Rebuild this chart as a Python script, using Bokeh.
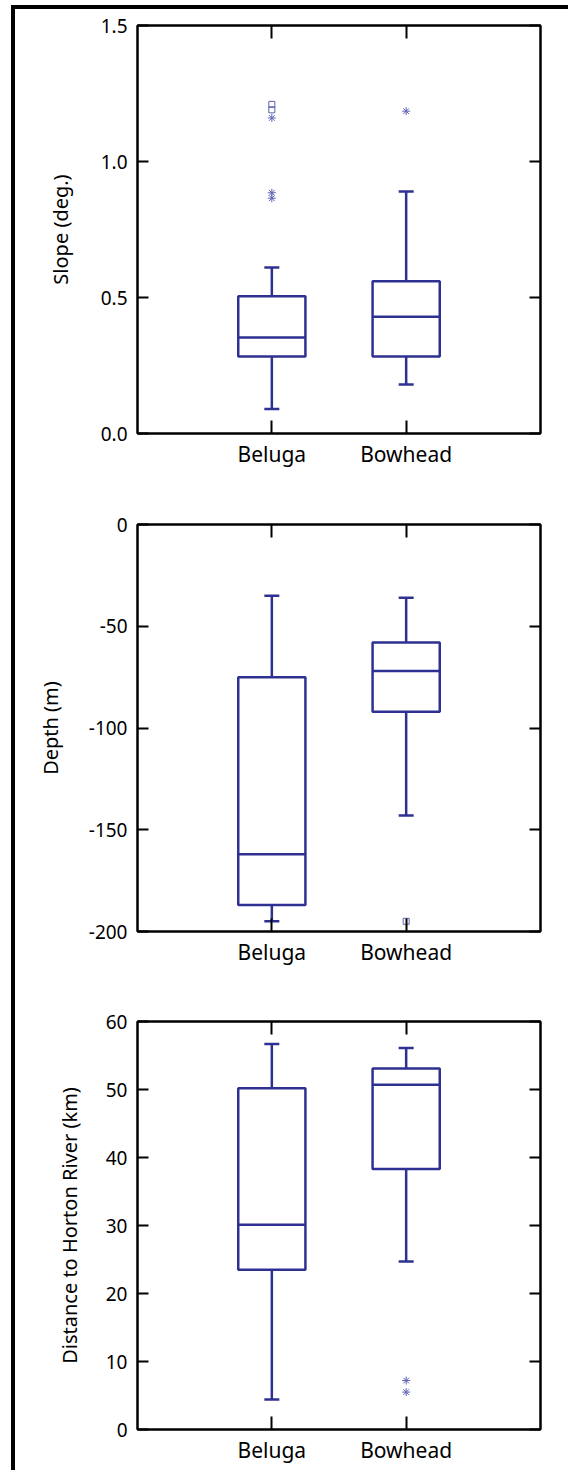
from bokeh.plotting import figure
from bokeh.layouts import column
from bokeh.models import (Range1d, FixedTicker, LinearAxis, ColumnDataSource, Whisker, TeeHead,
                          CustomLabelingPolicy)
from bokeh.embed import file_html
from bokeh.resources import INLINE

species = ["Beluga", "Bowhead"]
xpos = [1, 2]

# Slope (deg.)
slope_low = [0.09, 0.18]
slope_q1 = [0.283, 0.283]
slope_med = [0.353, 0.429]
slope_q3 = [0.505, 0.56]
slope_high = [0.61, 0.89]
slope_sq_x = [1, 1]
slope_sq_y = [1.21, 1.19]
slope_ast_x = [1, 1, 1, 2]
slope_ast_y = [1.16, 0.885, 0.865, 1.185]

# Depth (m)
depth_low = [-195, -143]
depth_q1 = [-187, -92]
depth_med = [-162, -72]
depth_q3 = [-75, -58]
depth_high = [-35, -36]
depth_sq_x = [2]
depth_sq_y = [-195]
depth_ast_x = []
depth_ast_y = []

# Distance to Horton River (km)
dist_low = [4.4, 24.7]
dist_q1 = [23.5, 38.3]
dist_med = [30.1, 50.7]
dist_q3 = [50.2, 53.1]
dist_high = [56.7, 56.1]
dist_sq_x = []
dist_sq_y = []
dist_ast_x = [2, 2]
dist_ast_y = [7.2, 5.5]

BOX = "#2E3192"
OUT = "#5E62B4"
FONT = "Noto Sans"
BOXW = 0.5
FIGW = 553

HIDE = "for (const i of indices) { indices.unset(i) } return indices"


def panel(height, btop, bbottom, yr, yticks, ylabels, ylabel, lstand,
          low, q1, med, q3, high, sqx, sqy, astx, asty):
    p = figure(width=FIGW, height=height, x_range=Range1d(0, 3), y_range=Range1d(*yr),
               output_backend="svg", toolbar_location=None,
               min_border_left=122, min_border_right=FIGW - 122 - 409,
               min_border_top=btop, min_border_bottom=bbottom)
    p.xgrid.visible = False
    p.ygrid.visible = False
    p.outline_line_color = "black"
    p.outline_line_width = 2
    p.background_fill_color = "white"
    p.border_fill_color = "white"

    # bottom x axis
    xa = p.xaxis[0]
    xa.ticker = FixedTicker(ticks=xpos)
    xa.major_label_overrides = {x: s for x, s in zip(xpos, species)}
    xa.major_tick_in = 13
    xa.major_tick_out = 0
    xa.minor_tick_line_color = None
    xa.axis_line_width = 2
    xa.major_tick_line_width = 2
    xa.major_label_text_font = FONT
    xa.major_label_text_font_size = "21px"
    xa.major_label_text_color = "black"
    xa.major_label_standoff = 6

    # left y axis
    ya = p.yaxis[0]
    ya.ticker = FixedTicker(ticks=yticks)
    ya.major_label_overrides = {t: l for t, l in zip(yticks, ylabels)}
    ya.major_tick_in = 11
    ya.major_tick_out = 0
    ya.minor_tick_line_color = None
    ya.axis_line_width = 2
    ya.major_tick_line_width = 2
    ya.major_label_text_font = FONT
    ya.major_label_text_font_size = "19px"
    ya.major_label_text_color = "black"
    ya.major_label_standoff = 10
    ya.axis_label = ylabel
    ya.axis_label_text_font = FONT
    ya.axis_label_text_font_size = "20px"
    ya.axis_label_text_font_style = "normal"
    ya.axis_label_text_color = "black"
    ya.axis_label_standoff = lstand

    # mirrored axes (ticks only)
    ta = LinearAxis(ticker=FixedTicker(ticks=xpos), major_tick_in=13, major_tick_out=0,
                    minor_tick_line_color=None, axis_line_width=2, major_tick_line_width=2,
                    major_label_policy=CustomLabelingPolicy(code=HIDE), major_label_standoff=0)
    p.add_layout(ta, "above")
    ra = LinearAxis(ticker=FixedTicker(ticks=yticks), major_tick_in=11, major_tick_out=0,
                    minor_tick_line_color=None, axis_line_width=2, major_tick_line_width=2,
                    major_label_policy=CustomLabelingPolicy(code=HIDE), major_label_standoff=0)
    p.add_layout(ra, "right")

    src = ColumnDataSource(dict(x=xpos, low=low, q1=q1, med=med, q3=q3, high=high,
                                mx0=[x - BOXW / 2 for x in xpos], mx1=[x + BOXW / 2 for x in xpos]))
    p.add_layout(Whisker(source=src, base="x", lower="q3", upper="high", dimension="height",
                         line_color=BOX, line_width=2.5, lower_head=None,
                         upper_head=TeeHead(size=15, line_color=BOX, line_width=2.5)))
    p.add_layout(Whisker(source=src, base="x", lower="low", upper="q1", dimension="height",
                         line_color=BOX, line_width=2.5, upper_head=None,
                         lower_head=TeeHead(size=15, line_color=BOX, line_width=2.5)))
    p.vbar(x="x", width=BOXW, bottom="q1", top="q3", source=src,
           fill_color="white", line_color=BOX, line_width=2.5)
    p.segment(x0="mx0", x1="mx1", y0="med", y1="med", source=src,
              line_color=BOX, line_width=2.5)
    if sqx:
        p.scatter(sqx, sqy, marker="square", size=6, fill_color=None,
                  line_color=OUT, line_width=1)
    if astx:
        p.scatter(astx, asty, marker="asterisk", size=8, line_color=OUT, line_width=1)
    return p


p1 = panel(484, 16, 60, (0, 1.5), [0, 0.5, 1.0, 1.5], ["0.0", "0.5", "1.0", "1.5"],
           "Slope (deg.)", 24,
           slope_low, slope_q1, slope_med, slope_q3, slope_high,
           slope_sq_x, slope_sq_y, slope_ast_x, slope_ast_y)
p2 = panel(498, 31, 60, (-200, 0), [0, -50, -100, -150, -200], ["0", "-50", "-100", "-150", "-200"],
           "Depth (m)", 22,
           depth_low, depth_q1, depth_med, depth_q3, depth_high,
           depth_sq_x, depth_sq_y, depth_ast_x, depth_ast_y)
p3 = panel(479, 30, 41, (0, 60), [0, 10, 20, 30, 40, 50, 60], ["0", "10", "20", "30", "40", "50", "60"],
           "Distance to Horton River (km)", 20,
           dist_low, dist_q1, dist_med, dist_q3, dist_high,
           dist_sq_x, dist_sq_y, dist_ast_x, dist_ast_y)

layout = column(p1, p2, p3, spacing=0,
                styles={"border-left": "4px solid black", "border-top": "4px solid black",
                        "margin-left": "11px", "margin-top": "5px"})

open("out.html", "w").write(file_html(layout, INLINE))
